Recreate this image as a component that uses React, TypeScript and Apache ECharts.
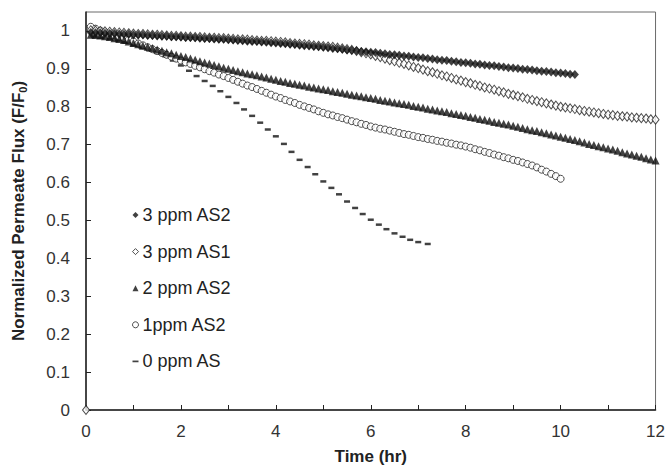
import React, { useEffect, useRef } from "react";
import * as echarts from "echarts";

// Time grid (hr) for the densely sampled series
const TIME_H = [
  0.1, 0.2, 0.3, 0.4, 0.5, 0.6, 0.7, 0.8, 0.9, 1.0,
  1.1, 1.2, 1.3, 1.4, 1.5, 1.6, 1.7, 1.8, 1.9, 2.0,
  2.1, 2.2, 2.3, 2.4, 2.5, 2.6, 2.7, 2.8, 2.9, 3.0,
  3.1, 3.2, 3.3, 3.4, 3.5, 3.6, 3.7, 3.8, 3.9, 4.0,
  4.1, 4.2, 4.3, 4.4, 4.5, 4.6, 4.7, 4.8, 4.9, 5.0,
  5.1, 5.2, 5.3, 5.4, 5.5, 5.6, 5.7, 5.8, 5.9, 6.0,
  6.1, 6.2, 6.3, 6.4, 6.5, 6.6, 6.7, 6.8, 6.9, 7.0,
  7.1, 7.2, 7.3, 7.4, 7.5, 7.6, 7.7, 7.8, 7.9, 8.0,
  8.1, 8.2, 8.3, 8.4, 8.5, 8.6, 8.7, 8.8, 8.9, 9.0,
  9.1, 9.2, 9.3, 9.4, 9.5, 9.6, 9.7, 9.8, 9.9, 10.0,
  10.1, 10.2, 10.3, 10.4, 10.5, 10.6, 10.7, 10.8, 10.9, 11.0,
  11.1, 11.2, 11.3, 11.4, 11.5, 11.6, 11.7, 11.8, 11.9, 12.0,
];

// 3 ppm AS2 (filled diamonds), 0.1 .. 10.3 hr
const PPM3_AS2 = [
  0.996, 0.995, 0.995, 0.994, 0.993, 0.993, 0.992, 0.991, 0.991, 0.990,
  0.989, 0.989, 0.988, 0.988, 0.987, 0.986, 0.986, 0.985, 0.985, 0.984,
  0.983, 0.983, 0.982, 0.981, 0.980, 0.980, 0.979, 0.978, 0.978, 0.977,
  0.976, 0.975, 0.974, 0.973, 0.972, 0.972, 0.971, 0.970, 0.969, 0.968,
  0.967, 0.966, 0.965, 0.964, 0.962, 0.961, 0.960, 0.959, 0.958, 0.957,
  0.956, 0.954, 0.953, 0.952, 0.950, 0.949, 0.948, 0.946, 0.945, 0.944,
  0.943, 0.941, 0.940, 0.938, 0.937, 0.936, 0.934, 0.933, 0.931, 0.930,
  0.929, 0.927, 0.926, 0.924, 0.923, 0.922, 0.920, 0.919, 0.917, 0.916,
  0.915, 0.913, 0.912, 0.910, 0.909, 0.908, 0.906, 0.905, 0.903, 0.902,
  0.901, 0.899, 0.898, 0.897, 0.895, 0.894, 0.893, 0.892, 0.890, 0.889,
  0.888, 0.886, 0.885,
];

// 3 ppm AS1 (open diamonds), 0.1 .. 12 hr
const PPM3_AS1 = [
  1.002, 1.001, 1.000, 0.999, 0.998, 0.997, 0.996, 0.995, 0.994, 0.993,
  0.992, 0.992, 0.991, 0.990, 0.990, 0.989, 0.988, 0.987, 0.987, 0.986,
  0.985, 0.985, 0.984, 0.984, 0.983, 0.982, 0.982, 0.981, 0.981, 0.980,
  0.979, 0.978, 0.978, 0.977, 0.976, 0.975, 0.974, 0.974, 0.973, 0.972,
  0.971, 0.970, 0.968, 0.967, 0.966, 0.965, 0.964, 0.962, 0.961, 0.960,
  0.959, 0.958, 0.956, 0.954, 0.952, 0.950, 0.947, 0.944, 0.941, 0.938,
  0.934, 0.931, 0.927, 0.923, 0.920, 0.916, 0.913, 0.909, 0.905, 0.902,
  0.898, 0.894, 0.891, 0.887, 0.883, 0.880, 0.876, 0.872, 0.869, 0.865,
  0.862, 0.858, 0.855, 0.851, 0.848, 0.845, 0.841, 0.838, 0.834, 0.831,
  0.828, 0.825, 0.821, 0.818, 0.815, 0.812, 0.809, 0.806, 0.803, 0.800,
  0.798, 0.796, 0.794, 0.791, 0.789, 0.787, 0.785, 0.783, 0.781, 0.779,
  0.778, 0.776, 0.775, 0.774, 0.772, 0.771, 0.770, 0.769, 0.767, 0.766,
];
// stray AS1 point plotted at the origin
const PPM3_AS1_ORIGIN = [0, 0];

// 2 ppm AS2 (filled triangles), 0.1 .. 12 hr
const PPM2_AS2 = [
  0.990, 0.989, 0.988, 0.986, 0.984, 0.981, 0.979, 0.976, 0.972, 0.968,
  0.965, 0.961, 0.958, 0.955, 0.951, 0.948, 0.944, 0.941, 0.937, 0.934,
  0.931, 0.927, 0.924, 0.920, 0.917, 0.914, 0.910, 0.907, 0.903, 0.900,
  0.897, 0.894, 0.891, 0.888, 0.886, 0.883, 0.880, 0.877, 0.874, 0.871,
  0.868, 0.866, 0.863, 0.861, 0.858, 0.856, 0.853, 0.851, 0.848, 0.846,
  0.844, 0.841, 0.839, 0.837, 0.834, 0.832, 0.830, 0.828, 0.825, 0.823,
  0.821, 0.818, 0.816, 0.814, 0.811, 0.809, 0.807, 0.805, 0.802, 0.800,
  0.798, 0.795, 0.793, 0.790, 0.788, 0.786, 0.783, 0.781, 0.778, 0.776,
  0.773, 0.771, 0.768, 0.766, 0.763, 0.760, 0.758, 0.755, 0.753, 0.750,
  0.747, 0.744, 0.741, 0.738, 0.736, 0.733, 0.730, 0.727, 0.724, 0.721,
  0.718, 0.715, 0.712, 0.709, 0.706, 0.702, 0.699, 0.696, 0.693, 0.690,
  0.687, 0.684, 0.680, 0.677, 0.674, 0.671, 0.668, 0.664, 0.661, 0.658,
];

// 1ppm AS2 (open circles), 0.1 .. 10 hr
const PPM1_AS2 = [
  1.011, 1.006, 1.001, 0.997, 0.993, 0.989, 0.985, 0.981, 0.977, 0.972,
  0.967, 0.962, 0.957, 0.952, 0.947, 0.942, 0.937, 0.932, 0.927, 0.922,
  0.917, 0.913, 0.908, 0.904, 0.899, 0.894, 0.890, 0.885, 0.881, 0.876,
  0.871, 0.866, 0.861, 0.856, 0.852, 0.847, 0.842, 0.837, 0.832, 0.827,
  0.823, 0.818, 0.814, 0.810, 0.805, 0.801, 0.797, 0.793, 0.788, 0.784,
  0.780, 0.777, 0.773, 0.770, 0.766, 0.762, 0.759, 0.755, 0.752, 0.748,
  0.745, 0.742, 0.740, 0.737, 0.734, 0.731, 0.728, 0.726, 0.723, 0.720,
  0.718, 0.715, 0.713, 0.710, 0.708, 0.705, 0.703, 0.700, 0.698, 0.695,
  0.692, 0.688, 0.685, 0.681, 0.678, 0.674, 0.671, 0.667, 0.664, 0.660,
  0.657, 0.653, 0.649, 0.645, 0.640, 0.634, 0.629, 0.623, 0.617, 0.610,
];

// 0 ppm AS (dashes), sampled every ~10 min
const DASH_TIME_H = [
  0.17, 0.33, 0.5, 0.67, 0.83, 1.0, 1.17, 1.33, 1.5, 1.67, 1.83, 2.0,
  2.17, 2.33, 2.5, 2.67, 2.83, 3.0, 3.17, 3.33, 3.5, 3.67, 3.83, 4.0,
  4.17, 4.33, 4.5, 4.67, 4.83, 5.0, 5.17, 5.33, 5.5, 5.67, 5.83, 6.0,
  6.17, 6.33, 6.5, 6.67, 6.83, 7.0, 7.2,
];
const PPM0_AS = [
  0.985, 0.982, 0.979, 0.975, 0.969, 0.962, 0.956, 0.949, 0.942, 0.933, 0.922, 0.909,
  0.895, 0.881, 0.868, 0.855, 0.841, 0.826, 0.810, 0.793, 0.776, 0.758, 0.740, 0.722,
  0.702, 0.681, 0.660, 0.641, 0.622, 0.603, 0.586, 0.569, 0.550, 0.533, 0.517, 0.502,
  0.489, 0.477, 0.466, 0.457, 0.449, 0.443, 0.438,
];

const SERIES_NAMES = ["3 ppm AS2", "3 ppm AS1", "2 ppm AS2", "1ppm AS2", "0 ppm AS"];
const X_TICKS = [0, 2, 4, 6, 8, 10, 12];

const FONT = "'Liberation Sans', Arial, Helvetica, sans-serif";

export default function App() {
  const ref = useRef<HTMLDivElement>(null);

  useEffect(() => {
    if (!ref.current) return;
    const chart = echarts.init(ref.current, undefined, { renderer: "svg" });
    const pair = (ys: number[], xs: number[]) => ys.map((v, i) => [xs[i], v]);

    const filled = { color: "#111", borderWidth: 0 };
    const open = { color: "#fff", borderColor: "#222", borderWidth: 1 };

    const option: any = {
      animation: false,
      backgroundColor: "#fff",
      textStyle: { fontFamily: FONT },
      grid: {
        left: 86,
        right: 10,
        top: 12,
        bottom: 56,
        show: true,
        borderColor: "#6b6b6b",
        borderWidth: 1,
      },
      legend: {
        orient: "vertical",
        left: 127,
        top: 201,
        itemGap: 18.6,
        itemWidth: 6,
        itemHeight: 6,
        textStyle: { fontFamily: FONT, fontSize: 18, color: "#222", lineHeight: 18, padding: [0, 0, 0, -1] },
        data: [
          { name: SERIES_NAMES[0], icon: "diamond", itemStyle: filled },
          { name: SERIES_NAMES[1], icon: "diamond", itemStyle: open },
          { name: SERIES_NAMES[2], icon: "triangle", itemStyle: filled },
          { name: SERIES_NAMES[3], icon: "circle", itemStyle: open },
          { name: SERIES_NAMES[4], icon: "path://M0,0H7V2H0Z", itemStyle: filled },
        ],
      },
      xAxis: {
        type: "value",
        min: 0,
        max: 12,
        interval: 1,
        name: "Time (hr)",
        nameLocation: "middle",
        nameGap: 38,
        nameTextStyle: { fontFamily: FONT, fontSize: 17, fontWeight: "bold", color: "#222" },
        axisLine: { show: true, onZero: false, lineStyle: { color: "#222", width: 1.5 } },
        axisTick: { show: true, inside: true, length: 5, lineStyle: { color: "#222" } },
        axisLabel: {
          fontFamily: FONT,
          fontSize: 17,
          color: "#333",
          margin: 13,
          formatter: (v: number) => (X_TICKS.indexOf(v) >= 0 ? String(v) : ""),
        },
        splitLine: { show: false },
      },
      yAxis: {
        type: "value",
        min: 0,
        max: 1.05,
        interval: 0.1,
        name: "Normalized Permeate Flux (F/F{sub|0})",
        nameLocation: "middle",
        nameGap: 58,
        nameRotate: 90,
        nameTextStyle: {
          fontFamily: FONT,
          fontSize: 17,
          fontWeight: "bold",
          color: "#222",
          rich: {
            sub: { fontFamily: FONT, fontSize: 11, fontWeight: "bold", color: "#222", verticalAlign: "bottom", padding: [8, 0, 0, 0] },
          },
        },
        axisLine: { show: true, onZero: false, lineStyle: { color: "#222", width: 1.5 } },
        axisTick: { show: true, inside: true, length: 5, lineStyle: { color: "#222" } },
        axisLabel: { fontFamily: FONT, fontSize: 17, color: "#333", margin: 16, showMaxLabel: false },
        splitLine: { show: false },
      },
      series: [
        {
          name: SERIES_NAMES[0],
          type: "scatter",
          symbol: "diamond",
          symbolSize: [8, 9],
          itemStyle: filled,
          data: pair(PPM3_AS2, TIME_H),
          z: 5,
        },
        {
          name: SERIES_NAMES[1],
          type: "scatter",
          symbol: "diamond",
          symbolSize: [7, 9],
          itemStyle: open,
          data: [PPM3_AS1_ORIGIN].concat(pair(PPM3_AS1, TIME_H)),
          clip: false,
          z: 4,
        },
        {
          name: SERIES_NAMES[2],
          type: "scatter",
          symbol: "triangle",
          symbolSize: [8, 8],
          itemStyle: filled,
          data: pair(PPM2_AS2, TIME_H),
          z: 3,
        },
        {
          name: SERIES_NAMES[3],
          type: "scatter",
          symbol: "circle",
          symbolSize: 7,
          itemStyle: open,
          data: pair(PPM1_AS2, TIME_H),
          z: 2,
        },
        {
          name: SERIES_NAMES[4],
          type: "scatter",
          symbol: "rect",
          symbolSize: [6, 2.5],
          itemStyle: filled,
          data: pair(PPM0_AS, DASH_TIME_H),
          z: 1,
        },
      ],
    };
    chart.setOption(option);
    return () => chart.dispose();
  }, []);

  return <div ref={ref} style={{ width: 668, height: 470, position: "absolute", left: 0, top: 0 }} />;
}
